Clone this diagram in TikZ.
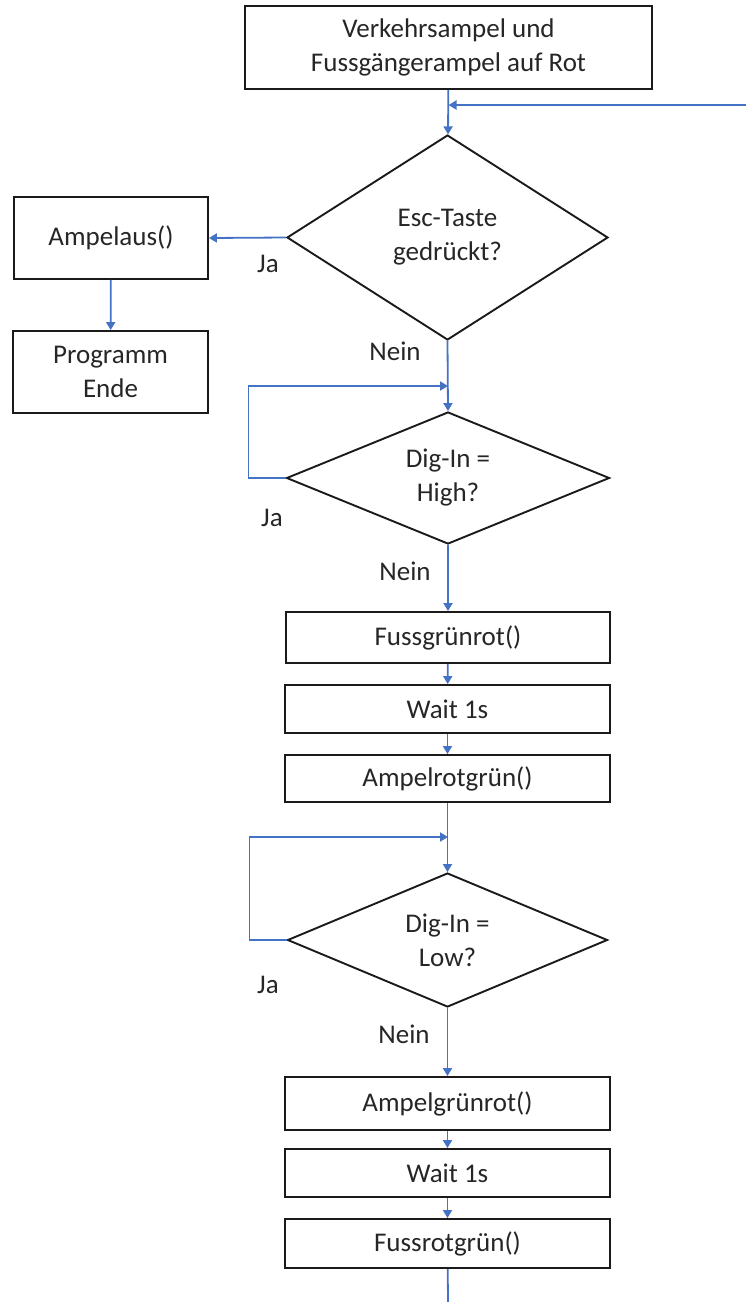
\documentclass[tikz,border=0pt]{standalone}
\usepackage{fontspec}
\setmainfont{Carlito}
\usepackage{tikz}
\usetikzlibrary{shapes.geometric,arrows.meta}
\definecolor{FlowBlue}{HTML}{4472C4}
\definecolor{BoxLine}{HTML}{1A1A1A}

\begin{document}
\begin{tikzpicture}[x=1pt, y=-1pt,
    every node/.style={font=\fontsize{27}{34}\selectfont, text=black!85},
    box/.style={draw=BoxLine, line width=1.9pt, align=center, inner sep=0pt},
    decide/.style={draw=BoxLine, line width=1.9pt, shape=diamond, aspect=2.4, align=center, inner sep=0pt},
    flow/.style={draw=FlowBlue, line width=1.8pt, -{Triangle[width=9pt,length=8pt]}},
    plain/.style={draw=FlowBlue, line width=1.8pt}]
  \useasboundingbox (0,0) rectangle (746,1302);
  % start and first question
  \node[box, minimum width=407pt, minimum height=83pt] (start) at (448.5,47.5) {Verkehrsampel und\\Fussg\"angerampel auf Rot};
  \node[decide, minimum width=321pt, minimum height=205pt] (esc) at (447.5,237.5) {Esc-Taste\\gedr\"uckt?};
  \node[box, minimum width=194pt, minimum height=82pt] (aus) at (111,238) {Ampelaus()};
  \node[box, minimum width=195pt, minimum height=82pt] (ende) at (110.5,372) {Programm\\Ende};
  % waiting for the button
  \node[decide, minimum width=323pt, minimum height=132pt] (high) at (448,478) {Dig-In =\\High?};
  \node[box, minimum width=324pt, minimum height=51pt] (fgr) at (448,637.5) {Fussgr\"unrot()};
  \node[box, minimum width=325pt, minimum height=48pt] (wait1) at (447.5,709) {Wait 1s};
  \node[box, minimum width=325pt, minimum height=47pt] (arg) at (447.5,778.5) {Ampelrotgr\"un()};
  % waiting for release
  \node[decide, minimum width=320pt, minimum height=134pt] (low) at (447.5,940) {Dig-In =\\Low?};
  \node[box, minimum width=325pt, minimum height=53pt] (agr) at (447.5,1103.5) {Ampelgr\"unrot()};
  \node[box, minimum width=325pt, minimum height=48pt] (wait2) at (447.5,1173) {Wait 1s};
  \node[box, minimum width=325pt, minimum height=49pt] (frg) at (447.5,1243.5) {Fussrotgr\"un()};
  % branch labels
  \node (ja1) at (268,264) {Ja};
  \node (nein1) at (395,351) {Nein};
  \node (ja2) at (272,518) {Ja};
  \node (nein2) at (405,571) {Nein};
  \node (ja3) at (268,985) {Ja};
  \node (nein3) at (404,1034) {Nein};
  % connectors
  \coordinate (back) at (746,105);
  \coordinate (join1) at (448,386);
  \coordinate (join2) at (448,837);
  \coordinate (bottom) at (448,1302);
  \draw[flow] (start) -- (esc);
  \draw[flow] (back) -- (back -| start.south);
  \draw[flow] (esc.west) -- (aus.east);
  \draw[flow] (aus) -- (ende);
  \draw[flow] (esc.south) -- (high.north);
  \draw[flow] (high.west) -- ++(-37,0) |- (join1);
  \draw[flow] (high.south) -- (fgr.north);
  \draw[flow] (fgr) -- (wait1);
  \draw[flow] (wait1) -- (arg);
  \draw[flow] (arg) -- (low);
  \draw[flow] (low.west) -- ++(-37,0) |- (join2);
  \draw[flow] (low.south) -- (agr.north);
  \draw[flow] (agr) -- (wait2);
  \draw[flow] (wait2) -- (frg);
  \draw[plain] (frg) -- (bottom);
\end{tikzpicture}
\end{document}
